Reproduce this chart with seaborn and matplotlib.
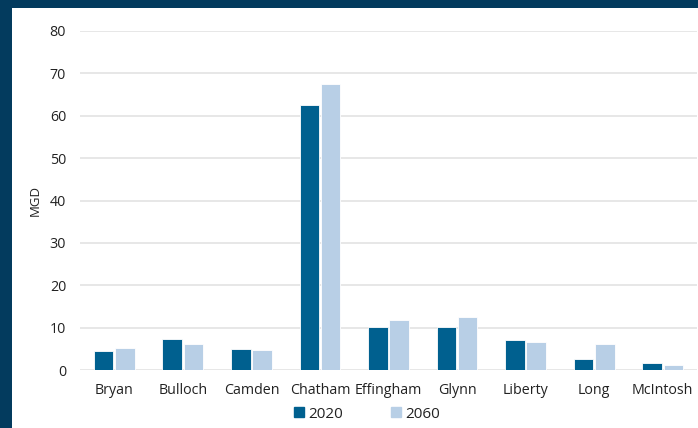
import matplotlib
matplotlib.use("Agg")
import matplotlib.pyplot as plt
import seaborn as sns
import pandas as pd
from matplotlib.patches import Rectangle
from matplotlib.lines import Line2D

counties = ["Bryan", "Bulloch", "Camden", "Chatham", "Effingham", "Glynn", "Liberty", "Long", "McIntosh"]
v2020 = [4.5, 7.2, 4.9, 62.5, 10.2, 10.2, 7.1, 2.7, 1.6]
v2060 = [5.2, 6.2, 4.7, 67.4, 11.8, 12.4, 6.5, 6.2, 1.1]
years = ["2020", "2060"]
yticks = [0, 10, 20, 30, 40, 50, 60, 70, 80]

df = pd.DataFrame({
    "County": counties * 2,
    "MGD": v2020 + v2060,
    "Year": [years[0]] * len(counties) + [years[1]] * len(counties),
})

sns.set_theme(style="white")
plt.rcParams["font.family"] = ["Open Sans", "DejaVu Sans"]

dark = "#00608f"
light = "#b8cfe6"
navy = "#033b5e"

fig = plt.figure(figsize=(6.98, 4.28), dpi=100)
fig.patch.set_facecolor(navy)
fig.add_artist(Rectangle((12 / 698, 0), 1, 1 - 8 / 428, transform=fig.transFigure,
                         facecolor="white", edgecolor="none", zorder=0))
ax = fig.add_axes([80 / 698, 1 - 370 / 428, 617 / 698, 339 / 428])
ax.set_facecolor("none")

sns.barplot(data=df, x="County", y="MGD", hue="Year", palette=[dark, light], saturation=1,
            width=0.62, gap=0.08, edgecolor="white", linewidth=0.6, ax=ax, legend=False)

ax.set_ylim(0, 80)
ax.set_yticks(yticks)
ax.set_xlim(-0.5, len(counties) - 0.5)
ax.grid(axis="y", color="#e3e3e3", linewidth=1.2)
ax.set_axisbelow(True)
for s in ax.spines.values():
    s.set_visible(False)
ax.tick_params(axis="both", length=0, labelsize=10.3, colors="#222222")
ax.tick_params(axis="x", pad=9.5)
ax.tick_params(axis="y", pad=10)
ax.set_xlabel("")
ax.set_ylabel("MGD", fontsize=9.5, color="#222222", labelpad=6)

handles = [Line2D([], [], marker="s", linestyle="none", markersize=7, color=dark),
           Line2D([], [], marker="s", linestyle="none", markersize=7, color=light)]
fig.legend(handles, years, loc="center", bbox_to_anchor=(367 / 698, 1 - 414 / 428), ncol=2,
           frameon=False, fontsize=11, handlelength=0.6, handletextpad=0.3,
           columnspacing=3.2, labelcolor="#222222")

fig.savefig("out.png", dpi=100, facecolor=fig.get_facecolor())
